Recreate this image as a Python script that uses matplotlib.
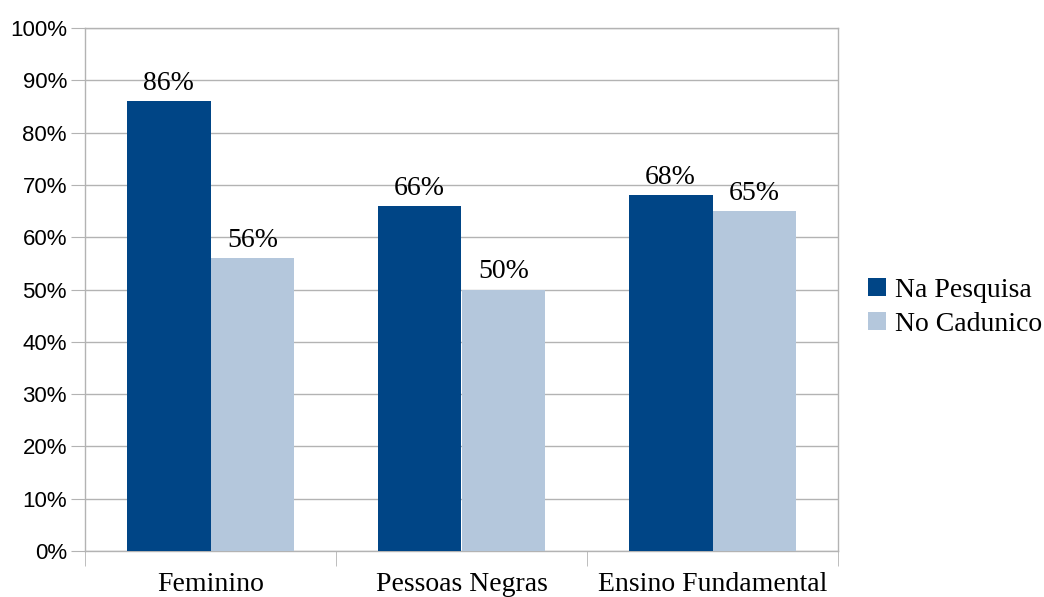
import numpy as np
import matplotlib.pyplot as plt
from matplotlib.ticker import PercentFormatter

categories = ['Feminino', 'Pessoas Negras', 'Ensino Fundamental']
na_pesquisa = [86, 66, 68]
no_cadunico = [56, 50, 65]
series_names = ['Na Pesquisa', 'No Cadunico']

dark = '#004586'
light = '#b4c7dc'
grid = '#b3b3b3'

fig = plt.figure(figsize=(10.44, 5.97), dpi=100)
ax = fig.add_axes([85/1044, 46/597, 753/1044, 523/597])

x = np.arange(len(categories))
w = 0.334
b1 = ax.bar(x - w/2, na_pesquisa, w, color=dark, label=series_names[0], zorder=3)
b2 = ax.bar(x + w/2, no_cadunico, w, color=light, label=series_names[1], zorder=3)

for bars in (b1, b2):
    for r in bars:
        ax.text(r.get_x() + r.get_width()/2, r.get_height() + 1.0, f'{r.get_height():.0f}%',
                ha='center', va='bottom', family='Liberation Serif', fontsize=20)

ax.set_xlim(-0.5, len(categories) - 0.5)
ax.set_ylim(0, 100)
ax.set_yticks(np.arange(0, 101, 10))
ax.yaxis.set_major_formatter(PercentFormatter(decimals=0))
ax.yaxis.grid(True, color=grid, linewidth=1, zorder=0)

# category labels centered, tick marks at boundaries
ax.set_xticks(x)
ax.set_xticklabels(categories, family='Liberation Serif', fontsize=20)
ax.tick_params(axis='x', length=0, pad=15)
ax.set_xticks(np.arange(-0.5, len(categories)), minor=True)
ax.tick_params(axis='x', which='minor', length=11, color=grid)
ax.tick_params(axis='y', length=10, color=grid, labelsize=16, pad=3)
for lab in ax.get_yticklabels():
    lab.set_family('Liberation Sans')

for s in ax.spines.values():
    s.set_color(grid)
    s.set_linewidth(1)

leg = ax.legend(loc='center left', bbox_to_anchor=(1.007, 0.466), frameon=False,
                prop={'family': 'Liberation Serif', 'size': 20},
                handlelength=0.65, handleheight=0.65, handletextpad=0.3, labelspacing=0.33)

fig.savefig('out.png', dpi=100)
